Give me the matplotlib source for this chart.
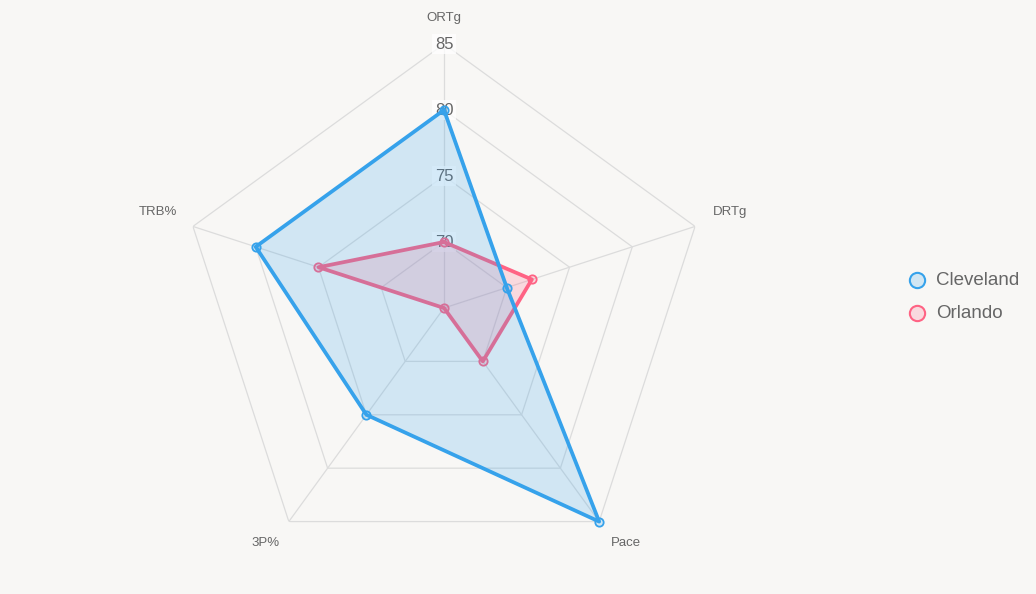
import numpy as np
import matplotlib
matplotlib.use("Agg")
import matplotlib.pyplot as plt

# data
categories = ["ORTg", "DRTg", "Pace", "3P%", "TRB%"]
cleveland = [80, 70, 85, 75, 80]
orlando = [70, 72, 70, 65, 75]
rings = [70, 75, 80, 85]
r_min, r_max = 65, 85

bg = "#f8f7f5"
blue = "#36a2eb"
pink = "#ff6384"
grid_c = "#dcdcdc"
txt_c = "#666666"

plt.rcParams['font.family'] = ['Liberation Sans', 'DejaVu Sans']

fig = plt.figure(figsize=(10.36, 5.94), dpi=100, facecolor=bg)
ax = fig.add_axes([180/1036, 22/594, 528/1036, 528/594], projection="polar")
ax.patch.set_alpha(0)
ax.set_theta_offset(np.pi/2)
ax.set_theta_direction(-1)
ax.set_ylim(r_min, r_max)
ax.spines['polar'].set_visible(False)
ax.grid(False)
ax.set_xticks([])
ax.set_yticks([])

n = len(categories)
ang = np.arange(n) * 2*np.pi/n
ang_c = np.append(ang, ang[0])

# grid rings and spokes
for r in rings:
    ax.plot(ang_c, [r]*(n+1), color=grid_c, lw=0.9, zorder=1)
for a in ang:
    ax.plot([a, a], [r_min, r_max], color=grid_c, lw=0.9, zorder=1)

# tick labels
for r in rings:
    ax.text(0, r, str(r), ha="center", va="center", fontsize=12, color=txt_c, zorder=2,
            bbox=dict(boxstyle="square,pad=0.15", fc="white", ec="none", alpha=0.75))

# category labels
offsets = [(0, 26), (35, 14), (27, -21), (-23, -21), (-35, 14)]
for a, lab, off in zip(ang, categories, offsets):
    ax.annotate(lab, (a, r_max), xytext=off, textcoords="offset pixels",
                ha="center", va="center", fontsize=9.5, color=txt_c, annotation_clip=False)

# datasets (last one drawn first, like chart.js)
z = 3
for vals, col in [(orlando, pink), (cleveland, blue)]:
    v = vals + vals[:1]
    ax.fill(ang_c, v, color=col, alpha=0.2, lw=0, zorder=z)
    ax.plot(ang_c, v, color=col, lw=2.7, zorder=z+1, clip_on=False)
    ax.plot(ang, vals, ls="none", marker="o", ms=6, mfc=matplotlib.colors.to_rgba(col, 0.2),
            mec=col, mew=1.3, zorder=z+2, clip_on=False)
    z += 3

# legend
for i, (name, col) in enumerate([("Cleveland", blue), ("Orlando", pink)]):
    y = 1 - (280 + 33*i)/594
    fig.lines.append(plt.Line2D([917/1036], [y], transform=fig.transFigure, marker="o", ms=11,
                                mfc=matplotlib.colors.to_rgba(col, 0.2), mec=col, mew=1.5, ls="none"))
    fig.text(936/1036, y, name, ha="left", va="center", fontsize=13.5, color=txt_c)

fig.savefig("out.png", dpi=100, facecolor=bg)
